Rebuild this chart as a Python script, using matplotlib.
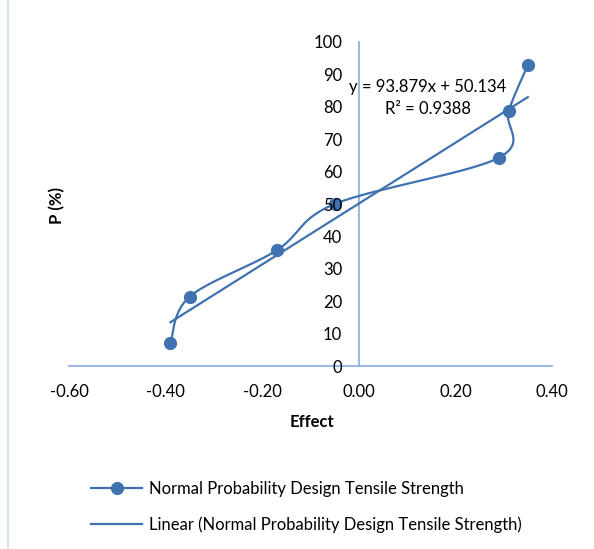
import numpy as np
import matplotlib
matplotlib.use("Agg")
import matplotlib.pyplot as plt
from matplotlib.lines import Line2D

# valores
efecto = [-0.39, -0.35, -0.17, -0.05, 0.29, 0.31, 0.35]
prob = [7.14, 21.43, 35.71, 50.0, 64.29, 78.57, 92.86]
xticks = [-0.6, -0.4, -0.2, 0.0, 0.2, 0.4]
yticks = [0, 10, 20, 30, 40, 50, 60, 70, 80, 90, 100]
serie = "Normal Probability Design Tensile Strength"

azul = "#3f72af"
eje = "#8db3e2"
fs = 12

plt.rcParams["font.family"] = ["Lato", "DejaVu Sans"]


def suavizar(x, y, sx, sy, n=30):
    """Curva tipo Excel (Bezier Catmull-Rom) en coordenadas de pantalla."""
    p = np.column_stack([np.asarray(x) * sx, np.asarray(y) * sy])
    pts = [p[0]] + list(p) + [p[-1]]
    salida = []
    for i in range(1, len(pts) - 2):
        p0, p1, p2, p3 = pts[i - 1], pts[i], pts[i + 1], pts[i + 2]
        c1 = p1 + (p2 - p0) / 6
        c2 = p2 - (p3 - p1) / 6
        t = np.linspace(0, 1, n)[:, None]
        b = (1 - t) ** 3 * p1 + 3 * (1 - t) ** 2 * t * c1 + 3 * (1 - t) * t ** 2 * c2 + t ** 3 * p2
        salida.append(b)
    c = np.vstack(salida)
    return c[:, 0] / sx, c[:, 1] / sy


fig = plt.figure(figsize=(5.94, 5.49), dpi=100)
ax = fig.add_axes([0.1162, 0.3333, 0.8131, 0.5902])
ax.set_xlim(-0.6, 0.4)
ax.set_ylim(0, 100)

# escala a pixeles para el suavizado
sx = 483 / 1.0
sy = 324 / 100.0
xs, ys = suavizar(efecto, prob, sx, sy)
ax.plot(xs, ys, color=azul, lw=1.6, zorder=3)
ax.plot(efecto, prob, "o", color=azul, ms=8.5, zorder=4)

# tendencia lineal
m, b = np.polyfit(efecto, prob, 1)
xl = np.array([min(efecto), max(efecto)])
ax.plot(xl, m * xl + b, color=azul, lw=1.6, zorder=3)
ax.text(0.143, 86.1, "y = 93.879x + 50.134", ha="center", va="center", fontsize=fs, zorder=6)
ax.text(0.143, 79.3, "R² = 0.9388", ha="center", va="center", fontsize=fs, zorder=6)

for s in ["top", "right"]:
    ax.spines[s].set_visible(False)
ax.spines["left"].set_position(("data", 0))
ax.spines["bottom"].set_position(("data", 0))
for s in ["left", "bottom"]:
    ax.spines[s].set_color(eje)
    ax.spines[s].set_linewidth(1.3)
    ax.spines[s].set_zorder(1)

ax.set_xticks(xticks)
ax.set_xticklabels(["%.2f" % v for v in xticks])
ax.set_yticks(yticks)
ax.tick_params(length=0, labelsize=fs, colors="black")
ax.tick_params(axis="x", pad=13)
ax.tick_params(axis="y", pad=12)
# etiquetas por encima de los puntos, como en Excel
ax.xaxis.set_zorder(5)
ax.yaxis.set_zorder(5)

fig.text(57 / 594, 1 - 205 / 549, "P (%)", rotation=90, ha="center", va="center", fontsize=fs, fontweight="bold")
fig.text(312 / 594, 1 - 422 / 549, "Effect", ha="center", va="center", fontsize=fs, fontweight="bold")

# borde izquierdo del area del grafico
fig.add_artist(Line2D([0.014, 0.014], [0, 1], color="#d9e1ec", lw=1.5))

h1 = Line2D([], [], color=azul, lw=1.6, marker="o", ms=8.5)
h2 = Line2D([], [], color=azul, lw=1.6)
fig.legend([h1, h2], [serie, "Linear (" + serie + ")"], loc="upper left",
           bbox_to_anchor=(84 / 594, 1 - 474 / 549), frameon=False, fontsize=fs,
           handlelength=3.1, handletextpad=0.4, labelspacing=1.2, borderaxespad=0)

fig.savefig("out.png", dpi=100)
plt.close()
